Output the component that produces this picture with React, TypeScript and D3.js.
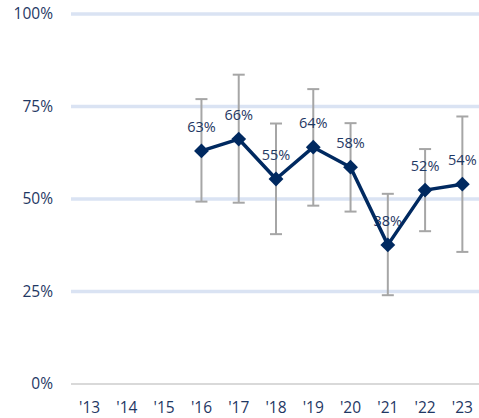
import React from "react";
import * as d3 from "d3";

const years = ["'13", "'14", "'15", "'16", "'17", "'18", "'19", "'20", "'21", "'22", "'23"];
const valueYears = ["'16", "'17", "'18", "'19", "'20", "'21", "'22", "'23"];
const values = [63, 66, 55, 64, 58, 38, 52, 54];
const valuePos = [63, 66.2, 55.4, 64, 58.6, 37.6, 52.4, 54];
const upper = [77, 83.6, 70.4, 79.7, 70.5, 51.4, 63.5, 72.3];
const lower = [49.3, 49, 40.5, 48.2, 46.6, 24, 41.3, 35.7];
const yTicks = [0, 25, 50, 75, 100];

const W = 479;
const H = 418;
const font = "'Open Sans', sans-serif";
const navy = "#1f3864";
const lineColor = "#002960";

export default function App() {
  const x = d3.scaleBand<string>().domain(years).range([71, 481]).padding(0);
  const y = d3.scaleLinear().domain([0, 100]).range([384, 14]);
  const cx = (d: string) => (x(d) ?? 0) + x.bandwidth() / 2;

  const pts = valueYears.map((yr, i) => ({ yr, v: values[i], p: valuePos[i], hi: upper[i], lo: lower[i] }));
  const line = d3
    .line<(typeof pts)[number]>()
    .x((d) => cx(d.yr))
    .y((d) => y(d.p));
  // square rotated 45deg -> even diamond
  const marker = d3.symbol(d3.symbolSquare, 110);

  return (
    <svg width={W} height={H} style={{ position: "absolute", left: 0, top: 0 }}>
      {yTicks.map((t) => (
        <g key={t}>
          <line
            x1={71}
            x2={W}
            y1={y(t)}
            y2={y(t)}
            stroke={t === 0 ? "#d9d9d9" : "#dae3f3"}
            strokeWidth={t === 0 ? 2 : 3.5}
          />
          <text
            x={53}
            y={y(t)}
            dy="0.35em"
            textAnchor="end"
            fontFamily={font}
            fontSize={15.5}
            fill={navy}
          >
            {t}%
          </text>
        </g>
      ))}
      {years.map((yr) => (
        <text
          key={yr}
          x={cx(yr)}
          y={408}
          dy="0.35em"
          textAnchor="middle"
          fontFamily={font}
          fontSize={15.5}
          fill={navy}
        >
          {yr}
        </text>
      ))}
      {pts.map((d) => (
        <g key={d.yr} stroke="#a6a6a6" strokeWidth={2}>
          <line x1={cx(d.yr)} x2={cx(d.yr)} y1={y(d.hi)} y2={y(d.lo)} />
          <line x1={cx(d.yr) - 6} x2={cx(d.yr) + 6} y1={y(d.hi)} y2={y(d.hi)} />
          <line x1={cx(d.yr) - 6} x2={cx(d.yr) + 6} y1={y(d.lo)} y2={y(d.lo)} />
        </g>
      ))}
      {pts.map((d) => (
        <text
          key={d.yr}
          x={cx(d.yr)}
          y={y(d.p) - 24}
          dy="0.35em"
          textAnchor="middle"
          fontFamily={font}
          fontSize={14.5}
          fill={navy}
        >
          {d.v}%
        </text>
      ))}
      <path d={line(pts) ?? ""} fill="none" stroke={lineColor} strokeWidth={3.5} strokeLinejoin="round" />
      {pts.map((d) => (
        <path
          key={d.yr}
          d={marker() ?? ""}
          transform={`translate(${cx(d.yr)},${y(d.p)}) rotate(45)`}
          fill={lineColor}
        />
      ))}
    </svg>
  );
}
